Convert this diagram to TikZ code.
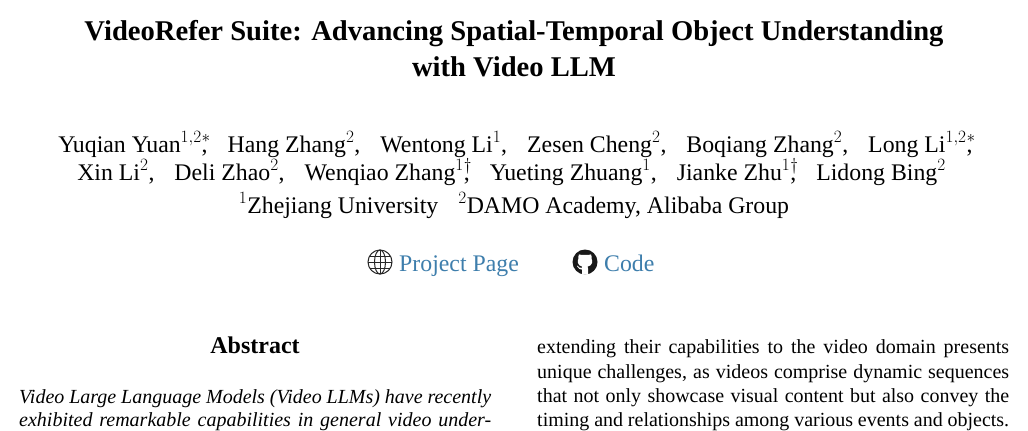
\documentclass[tikz,border=0pt]{standalone}
\usepackage{fontspec}
\setmainfont{Liberation Serif}
\definecolor{linkblue}{RGB}{62,126,172}
\newcommand{\supc}[2]{$^{#1}$\rlap{$^{#2}$},}
\newcommand{\supp}[1]{$^{#1}$}
\newcommand{\gapp}{\hspace*{20pt}}
\newcommand{\lineto}[1]{\hbox to 472pt{#1}}
\tikzset{
 txt/.style={inner sep=0pt,anchor=base,text=black},
 ttl/.style={txt,font=\fontsize{28.6}{32}\bfseries\selectfont},
 auth/.style={txt,font=\fontsize{23.8}{28}\selectfont},
 body/.style={txt,anchor=base west,font=\fontsize{20}{24}\selectfont},
 bodyit/.style={txt,anchor=base west,font=\fontsize{20}{24}\itshape\selectfont},
 lnk/.style={txt,anchor=base west,font=\fontsize{23.8}{28}\selectfont,text=linkblue},
}
\begin{document}
\begin{tikzpicture}[x=1pt,y=-1pt]
\useasboundingbox (0,0) rectangle (1028,431);
\fill[white] (0,0) rectangle (1028,431);
\node[ttl] (t1) at (514,40) {VideoRefer Suite: Advancing Spatial-Temporal Object Understanding};
\node[ttl] (t2) at (514,76) {with Video LLM};
\node[auth] (a1) at (515.5,152) {Yuqian Yuan\supc{1,2}{*}\gapp Hang Zhang\supp{2},\gapp Wentong Li\supp{1},\gapp Zesen Cheng\supp{2},\gapp Boqiang Zhang\supp{2},\gapp Long Li\supc{1,2}{*}};
\node[auth] (a2) at (511.5,180) {Xin Li\supp{2},\gapp Deli Zhao\supp{2},\gapp Wenqiao Zhang\supc{1}{\dagger}\gapp Yueting Zhuang\supp{1},\gapp Jianke Zhu\supc{1}{\dagger}\gapp Lidong Bing\supp{2}};
\node[auth] (a3) at (514,213) {\supp{1}Zhejiang University\gapp \supp{2}DAMO Academy, Alibaba Group};
\node[lnk] (p) at (399,271) {Project Page};
\node[lnk] (c) at (604,271) {Code};
% globe icon
\begin{scope}[shift={(380,262)},line width=1pt,draw=black!85]
\draw (0,0) circle (12);
\draw (0,0) ellipse (5.5 and 12);
\draw (0,-12) -- (0,12);
\draw (-12,0) -- (12,0);
\draw (-10.4,-6) -- (10.4,-6);
\draw (-10.4,6) -- (10.4,6);
\end{scope}
% github icon
\begin{scope}[shift={(585,262)}]
\fill[black!90] (0,0) circle (12.5);
\fill[white] (0,-7) .. controls (-3,-7.2) and (-5,-7) .. (-6,-7.6) .. controls (-7,-5.5) and (-6.8,-4.2) .. (-6.5,-3.5) .. controls (-8,-1) and (-7.5,3.5) .. (-3,4.6) -- (-3,5.8) .. controls (-5,6.4) and (-6.4,5.2) .. (-7.5,3.5) -- (-8,4.2) .. controls (-6.5,6.6) and (-5,7.8) .. (-3,7.6) -- (-3,12.5) -- (3,12.5) -- (3,6.5) .. controls (3,5.5) and (2.8,5) .. (2.6,4.6) .. controls (7.5,3.8) and (8,-1) .. (6.5,-3.5) .. controls (6.8,-4.2) and (7,-5.5) .. (6,-7.6) .. controls (5,-7) and (3,-7.2) .. (0,-7) -- cycle;
\end{scope}
\node[txt,font=\fontsize{24}{28}\bfseries\selectfont] (ab) at (255,353) {Abstract};
\node[bodyit] (l1) at (19,403) {\lineto{Video Large Language Models (Video LLMs) have recently}};
\node[bodyit] (l2) at (19,426.5) {\lineto{exhibited remarkable capabilities in general video under-}};
\node[body] (r1) at (537,353) {\lineto{extending their capabilities to the video domain presents}};
\node[body] (r2) at (537,378) {\lineto{unique challenges, as videos comprise dynamic sequences}};
\node[body] (r3) at (537,402) {\lineto{that not only showcase visual content but also convey the}};
\node[body] (r4) at (537,426) {\lineto{timing and relationships among various events and objects.}};
\end{tikzpicture}
\end{document}
